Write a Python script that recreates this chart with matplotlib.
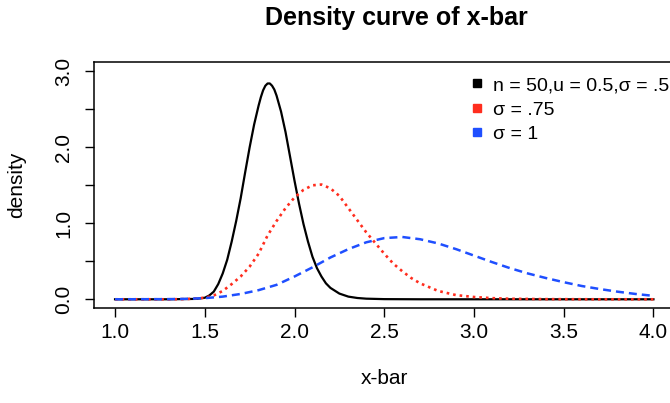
import matplotlib
matplotlib.use("Agg")
import matplotlib.pyplot as plt
from matplotlib.lines import Line2D

plt.rcParams['font.family'] = ['Liberation Sans', 'DejaVu Sans']

# density values
x_black = [1.0, 1.3, 1.45, 1.5, 1.525, 1.55, 1.575, 1.6, 1.625, 1.65, 1.675, 1.7,
           1.725, 1.75, 1.775, 1.8, 1.8125, 1.825, 1.8375, 1.85, 1.8625, 1.875, 1.8875,
           1.9, 1.925, 1.95, 1.975, 2.0, 2.025, 2.05, 2.075, 2.1, 2.125, 2.15, 2.175,
           2.2, 2.25, 2.3, 2.35, 2.4, 2.5, 2.7, 3.0, 3.5, 4.0]
y_black = [0.0, 0.0, 0.005, 0.02, 0.05, 0.10, 0.20, 0.34, 0.52, 0.76, 1.03, 1.33,
           1.67, 2.0, 2.3, 2.55, 2.66, 2.75, 2.81, 2.84, 2.84, 2.81, 2.76,
           2.68, 2.47, 2.2, 1.88, 1.56, 1.26, 0.99, 0.76, 0.56, 0.41, 0.30, 0.21,
           0.15, 0.075, 0.035, 0.017, 0.008, 0.002, 0.0, 0.0, 0.0, 0.0]

x_red = [1.0, 1.3, 1.4, 1.5, 1.55, 1.6, 1.65, 1.7, 1.75, 1.8, 1.85, 1.9, 1.95, 2.0,
         2.05, 2.1, 2.15, 2.2, 2.25, 2.3, 2.35, 2.4, 2.45, 2.5, 2.55, 2.6, 2.65, 2.7,
         2.8, 2.9, 3.0, 3.1, 3.2, 3.4, 3.7, 4.0]
y_red = [0.0, 0.0, 0.003, 0.02, 0.05, 0.11, 0.2, 0.3, 0.43, 0.6, 0.84, 1.03, 1.2, 1.34,
         1.44, 1.5, 1.51, 1.46, 1.36, 1.2, 1.04, 0.88, 0.74, 0.6, 0.47, 0.37, 0.28, 0.21,
         0.11, 0.055, 0.03, 0.015, 0.007, 0.002, 0.0, 0.0]

x_blue = [1.0, 1.3, 1.4, 1.5, 1.6, 1.7, 1.8, 1.9, 2.0, 2.1, 2.2, 2.3, 2.4, 2.5, 2.6,
          2.7, 2.8, 2.9, 3.0, 3.1, 3.2, 3.3, 3.4, 3.5, 3.6, 3.7, 3.8, 3.9, 4.0]
y_blue = [0.0, 0.002, 0.006, 0.015, 0.035, 0.07, 0.12, 0.19, 0.3, 0.42, 0.55, 0.66,
          0.75, 0.805, 0.82, 0.79, 0.735, 0.66, 0.575, 0.49, 0.41, 0.34, 0.28, 0.225,
          0.175, 0.135, 0.10, 0.07, 0.045]

labels = ["n = 50,u = 0.5,\u03c3 = .5", "\u03c3 = .75", "\u03c3 = 1"]
colors = ["black", "#ff2d1e", "#1f4fff"]

x_ticks = [1.0, 1.5, 2.0, 2.5, 3.0, 3.5, 4.0]
y_ticks = [0.0, 0.5, 1.0, 1.5, 2.0, 2.5, 3.0]
y_ticklabels = ["0.0", "", "1.0", "", "2.0", "", "3.0"]

W, H = 670, 403
fig = plt.figure(figsize=(W / 100, H / 100), dpi=100)
# right edge of the box falls just outside the picture, as in the reference
ax = fig.add_axes([93.5 / W, 1 - 308.4 / H, (675 - 93.5) / W, (308.4 - 62.2) / H])

ax.plot(x_black, y_black, color=colors[0], lw=1.6)
ax.plot(x_red, y_red, color=colors[1], lw=1.9, linestyle=(0, (1, 1.5)))
ax.plot(x_blue, y_blue, color=colors[2], lw=1.8, linestyle=(0, (3.2, 2)))

ax.set_xlim(0.88, 4.12)
ax.set_ylim(-0.12, 3.12)
ax.set_xticks(x_ticks)
ax.set_xticklabels([f"{v:.1f}" for v in x_ticks])
ax.set_yticks(y_ticks)
ax.set_yticklabels(y_ticklabels, rotation=90, va="center")

for s in ax.spines.values():
    s.set_linewidth(1.1)
ax.tick_params(direction="out", length=6.5, width=1.0, labelsize=15)
ax.tick_params(axis="x", pad=4)
ax.tick_params(axis="y", pad=8)

ax.set_title("Density curve of x-bar", fontsize=18, fontweight="bold", pad=26.8,
             x=(396 - 93.5) / 581.5)
ax.set_xlabel("x-bar", fontsize=15)
ax.xaxis.set_label_coords(0.5, (308.4 - 379) / 246.2)
ax.xaxis.label.set_va("center")
ax.set_ylabel("density", fontsize=15)
ax.yaxis.set_label_coords((17 - 93.5) / 581.5, 0.5)
ax.yaxis.label.set_va("center")

handles = [Line2D([], [], marker="s", linestyle="none", color=c, markersize=5.5)
           for c in colors]
ax.legend(handles, labels, loc="upper left", frameon=False, fontsize=14,
          handlelength=0.6, handletextpad=0.54, borderpad=0, borderaxespad=0,
          labelspacing=0.36, bbox_to_anchor=(471.2 / W, 1 - 76.4 / H),
          bbox_transform=fig.transFigure)

fig.savefig("out.png", dpi=100)
